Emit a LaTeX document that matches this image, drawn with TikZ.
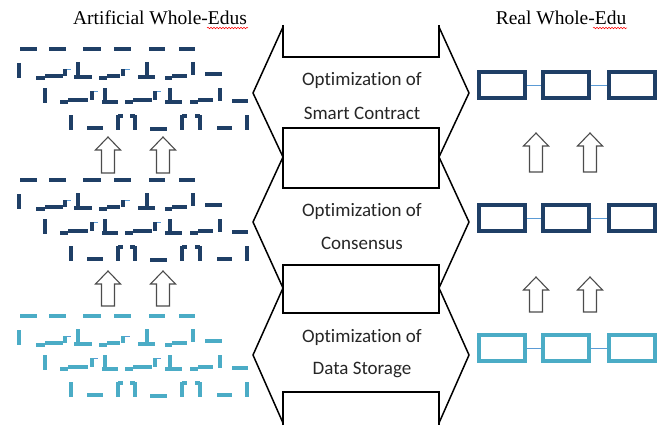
\documentclass[tikz,border=0pt]{standalone}
\usepackage{fontspec}
\setmainfont{Liberation Serif}
\newfontfamily\calibri[Ligatures={NoCommon}]{Carlito}
\usetikzlibrary{decorations.pathmorphing}
\definecolor{edudark}{HTML}{1F3F66}
\definecolor{educyan}{HTML}{4BACC6}
\definecolor{edulink}{HTML}{5B9BD5}

\begin{document}
\begin{tikzpicture}
  [x=1pt,y=-1pt,
   title/.style={font=\fontsize{19.5}{22}\selectfont},
   opt/.style={font=\calibri\fontsize{19}{22}\selectfont,text=black!85},
   frame/.style={line width=1.5pt,line join=miter},
   piece/.style={line width=4.5pt},
   block/.style={draw,line width=4pt,minimum width=46pt,minimum height=26pt,inner sep=0pt},
   uparrow/.style={draw=black!70,line width=1.1pt,fill=white},
   wavy/.style={red,line width=0.5pt,decorate,decoration={snake,amplitude=0.8pt,segment length=3pt}}]
  \useasboundingbox (0,0) rectangle (666,428);

  % titles
  \node[title] (left) at (160,18) {Artificial Whole-Edus};
  \node[title] (right) at (561,18) {Real Whole-Edu};
  \draw[wavy] (207,28) -- (248,28);
  \draw[wavy] (593,28) -- (627,28);

  % middle frames
  \draw[frame] (283,25) -- (283,57) -- (439,57) -- (439,25);
  \draw[frame] (283,27) -- (253,93) -- (283,157) -- (253,222) -- (283,288) -- (253,355) -- (283,423);
  \draw[frame] (439,27) -- (469,93) -- (439,157) -- (469,222) -- (439,288) -- (469,355) -- (439,423);
  \draw[frame] (283,128) rectangle (439,188);
  \draw[frame] (283,265) rectangle (439,313);
  \draw[frame] (283,425) -- (283,392) -- (439,392) -- (439,425);

  \node[opt] (o1) at (362,80) {Optimization of};
  \node[opt] (s1) at (362,113) {Smart Contract};
  \node[opt] (o2) at (362,211) {Optimization of};
  \node[opt] (s2) at (362,243) {Consensus};
  \node[opt] (o3) at (362,337) {Optimization of};
  \node[opt] (s3) at (362,370) {Data Storage};

  % broken chains (left)
  \foreach \dy/\col in {0/edudark, 131/edudark, 267/educyan}{
    \begin{scope}[yshift=-\dy pt]
      \foreach \xa/\ya/\xb/\yb in {20/49/37/49, 49/49/66/49, 83/49/101/49, 114/49/131/49, 149/49/165/49, 179/49/195/49,
          19/63/19/78, 36/78/45/78, 45/76/63/76, 65/69/65/76, 78/62/78/76, 74/77/92/77,
          99/78/107/78, 107/76/120/76, 123/69/123/76, 147/62/147/76, 138/77/155/77,
          165/78/172/78, 172/76/187/76, 193/62/193/75, 205/74/222/74,
          45/88/45/103, 60/102/68/102, 68/100/88/100, 92/91/92/100, 105/88/105/101, 102/102/118/102,
          125/102/133/102, 133/100/152/100, 155/91/155/100, 170/88/170/101, 165/102/182/102,
          190/102/198/102, 198/100/213/100, 220/88/220/101, 232/101/248/101,
          71/115/71/130, 87/128/103/128, 118/115/118/130, 118/116/123/116, 135/115/135/130, 130/116/135/116,
          150/129/167/129, 182/115/182/130, 182/116/187/116, 200/115/200/130, 195/116/200/116,
          217/128/232/128, 247/115/247/130}
        \draw[piece,\col] (\xa,\ya) -- (\xb,\yb);
      \foreach \xa/\ya/\xb/\yb in {67/69/71/69, 125/69/130/69, 94/91/98/91, 157/91/161/91}
        \draw[edulink,line width=1pt] (\xa,\ya) -- (\xb,\yb);
    \end{scope}
  }

  % real chains (right)
  \foreach \n/\y/\col in {1/85/edudark, 2/218/edudark, 3/348/educyan}{
    \node[block,draw=\col] (a\n) at (502,\y) {};
    \node[block,draw=\col] (b\n) at (566,\y) {};
    \node[block,draw=\col] (c\n) at (632,\y) {};
    \draw[edulink,line width=1pt] (a\n) -- (b\n);
    \draw[edulink,line width=1pt] (b\n) -- (c\n);
  }

  % up arrows
  \foreach \x/\y/\h in {108/137/36, 163/137/36, 108/271/35, 163/271/35,
                        536/133/39, 590/133/39, 536/277/35, 590/277/35}
    \draw[uparrow] (\x-6.5,\y+\h) -- (\x-6.5,\y+13) -- (\x-12.5,\y+13) -- (\x,\y)
      -- (\x+12.5,\y+13) -- (\x+6.5,\y+13) -- (\x+6.5,\y+\h) -- cycle;
\end{tikzpicture}
\end{document}
